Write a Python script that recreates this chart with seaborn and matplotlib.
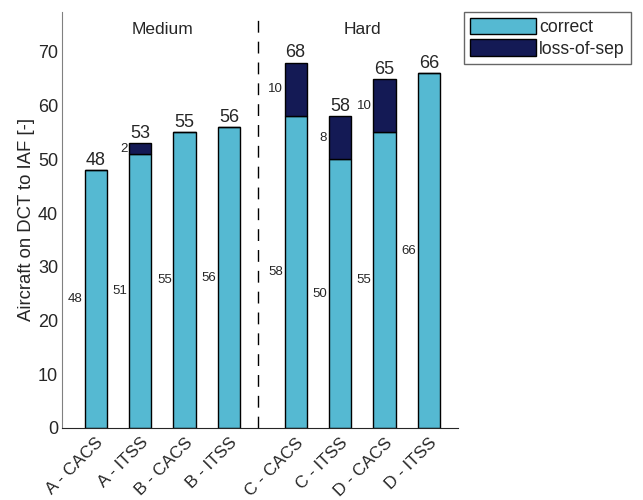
import matplotlib
matplotlib.use('Agg')
import matplotlib.pyplot as plt
import seaborn as sns
import pandas as pd
import numpy as np

# data
labels = ['A - CACS', 'A - ITSS', 'B - CACS', 'B - ITSS',
          'C - CACS', 'C - ITSS', 'D - CACS', 'D - ITSS']
correct = [48, 51, 55, 56, 58, 50, 55, 66]
loss_of_sep = [0, 2, 0, 0, 10, 8, 10, 0]
groups = ['Medium', 'Hard']

sns.set_style('white')
plt.rcParams['font.family'] = ['Liberation Sans', 'DejaVu Sans']

light = '#55b9d2'
dark = '#141a55'

pos = np.array([1, 2, 3, 4, 5.5, 6.5, 7.5, 8.5])
df = pd.DataFrame({'pos': pos, 'label': labels, 'correct': correct, 'loss': loss_of_sep})
df['total'] = df['correct'] + df['loss']

fig = plt.figure(figsize=(6.43, 5.0), dpi=100)
ax = fig.add_axes([0.097, 0.144, 0.615, 0.833])

w = 0.5
ax.bar(df['pos'], df['correct'], width=w, color=light, edgecolor='black', linewidth=1, label='correct')
ax.bar(df['pos'], df['loss'], bottom=df['correct'], width=w, color=dark, edgecolor='black',
       linewidth=1, label='loss-of-sep')

for _, r in df.iterrows():
    ax.text(r['pos'], r['total'] + 0.2, f"{r['total']:.0f}", ha='center', va='bottom', fontsize=13)
    ax.text(r['pos'] - w / 2 - 0.04, r['correct'] / 2, f"{r['correct']:.0f}",
            ha='right', va='center', fontsize=9.5)
    if r['loss'] > 0:
        ax.text(r['pos'] - w / 2 - 0.04, r['correct'] + r['loss'] / 2, f"{r['loss']:.0f}",
                ha='right', va='center', fontsize=9.5)

ax.axvline(4.65, color='black', linestyle=(0, (8.5, 6.5)), linewidth=1)
ax.text(2.5, 74.2, groups[0], ha='center', va='center', fontsize=12.5)
ax.text(7.0, 74.2, groups[1], ha='center', va='center', fontsize=12.5)

ax.set_xlim(0.25, 9.15)
ax.set_ylim(0, 77.5)
ax.set_yticks(range(0, 71, 10))
ax.set_xticks(pos)
ax.set_xticklabels(labels, rotation=45, ha='right', rotation_mode='anchor', fontsize=12.3)
ax.tick_params(axis='y', direction='in', length=4, labelsize=13, colors='#262626', pad=3)
ax.tick_params(axis='x', length=0, pad=5, colors='#262626')
ax.set_ylabel('Aircraft on DCT to IAF [-]', fontsize=13.3, color='#262626', labelpad=2)
sns.despine(ax=ax)
ax.spines['left'].set_color('#808080')
ax.spines['bottom'].set_color('#262626')

leg = ax.legend(loc='upper left', bbox_to_anchor=(1.016, 1.0), frameon=True, fancybox=False,
                fontsize=12.7, handlelength=3.7, handleheight=1.05, handletextpad=0.2,
                borderaxespad=0, labelspacing=0.2, borderpad=0.35)
leg.get_frame().set_edgecolor('#404040')
leg.get_frame().set_linewidth(1)

fig.savefig('out.png', dpi=100)
